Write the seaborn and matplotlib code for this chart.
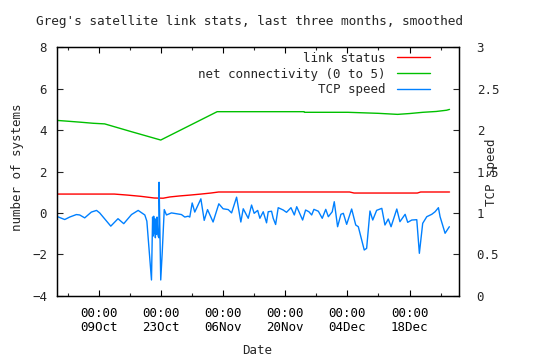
import matplotlib
matplotlib.use("Agg")
import matplotlib.pyplot as plt
import matplotlib.dates as mdates
import seaborn as sns
import pandas as pd

# 设置绘图风格
sns.set_theme(style="white")
plt.rcParams["font.family"] = ["DejaVu Sans Mono"]
plt.rcParams["font.size"] = 9

YEAR = "2007"

# link status (left axis)
link_time = ["09-29 12:00", "10-12 12:00", "10-15 12:00", "10-18 12:00", "10-21 12:00",
             "10-23 12:00", "10-25 00:00", "10-27 06:00", "10-29 12:00", "11-01 00:00",
             "11-03 06:00", "11-05 00:00", "12-04 12:00", "12-05 12:00", "12-19 18:00",
             "12-20 12:00", "12-27 00:00"]
link_status = [0.91, 0.91, 0.86, 0.80, 0.72,
               0.71, 0.77, 0.82, 0.86, 0.91,
               0.96, 1.01, 1.01, 0.96, 0.96,
               1.01, 1.01]

# net connectivity (left axis)
net_time = ["09-29 12:00", "10-02 00:00", "10-05 00:00", "10-07 18:00", "10-10 08:00",
            "10-16 06:00", "10-22 23:00", "11-04 16:00", "11-24 06:00", "11-24 08:00",
            "12-04 03:00", "12-11 00:00", "12-15 07:00", "12-18 00:00", "12-21 00:00",
            "12-24 00:00", "12-26 08:00", "12-27 00:00"]
net_conn = [4.47, 4.43, 4.38, 4.33, 4.30,
            3.93, 3.52, 4.89, 4.89, 4.86,
            4.86, 4.81, 4.76, 4.80, 4.86,
            4.90, 4.96, 5.00]

# TCP speed (right axis)
tcp_time = ["09-29 11:00", "10-01 08:00", "10-02 11:00", "10-03 23:00", "10-04 17:00",
            "10-05 20:00", "10-07 08:00", "10-08 12:00", "10-09 05:00", "10-11 17:00",
            "10-13 08:00", "10-14 15:00", "10-16 09:00", "10-17 21:00", "10-19 09:00",
            "10-19 20:00", "10-20 21:00", "10-21 03:00", "10-21 06:00", "10-21 09:00",
            "10-21 12:00", "10-21 15:00", "10-21 18:00", "10-21 21:00", "10-22 00:00",
            "10-22 03:00", "10-22 06:00", "10-22 09:00", "10-22 13:00", "10-22 14:00",
            "10-22 23:00", "10-23 07:00", "10-23 18:00", "10-24 06:00", "10-25 09:00",
            "10-26 12:00", "10-27 15:00", "10-28 09:00", "10-29 03:00", "10-29 12:00",
            "10-30 01:00", "10-30 15:00", "11-01 00:00", "11-01 18:00", "11-02 12:00",
            "11-03 18:00", "11-05 01:00", "11-06 00:00", "11-07 04:00", "11-07 22:00",
            "11-09 01:00", "11-10 00:00", "11-10 13:00", "11-11 16:00", "11-12 10:00",
            "11-13 00:00", "11-13 19:00", "11-14 07:00", "11-15 01:00", "11-15 19:00",
            "11-16 04:00", "11-16 22:00", "11-17 07:00", "11-17 20:00", "11-18 10:00",
            "11-19 13:00", "11-20 07:00", "11-21 07:00", "11-22 01:00", "11-22 14:00",
            "11-23 22:00", "11-24 14:00", "11-25 08:00", "11-25 23:00", "11-26 11:00",
            "11-27 11:00", "11-28 08:00", "11-29 03:00", "11-29 17:00", "11-30 14:00",
            "12-01 01:00", "12-01 19:00", "12-02 13:00", "12-03 02:00", "12-03 20:00",
            "12-04 23:00", "12-05 21:00", "12-06 11:00", "12-07 19:00", "12-08 08:00",
            "12-09 02:00", "12-09 17:00", "12-10 14:00", "12-11 18:00", "12-12 11:00",
            "12-13 05:00", "12-13 20:00", "12-15 03:00", "12-15 20:00", "12-17 00:00",
            "12-17 14:00", "12-18 12:00", "12-19 15:00", "12-20 05:00", "12-20 23:00",
            "12-21 21:00", "12-23 00:00", "12-23 18:00", "12-24 12:00", "12-24 21:00",
            "12-26 00:00", "12-26 23:00"]
tcp_speed = [0.96, 0.92, 0.95, 0.98, 0.975,
             0.94, 1.01, 1.03, 1.00, 0.84,
             0.93, 0.87, 0.98, 1.03, 0.975,
             0.90, 0.19, 0.95, 0.72, 0.96,
             0.75, 0.93, 0.70, 0.92, 0.74,
             0.95, 0.78, 0.72, 0.70, 1.37,
             0.19, 0.52, 1.04, 0.975, 1.00,
             0.99, 0.98, 0.95, 0.96, 0.95,
             1.12, 1.01, 1.17, 0.91, 1.04,
             0.89, 1.11, 1.05, 1.04, 1.00,
             1.19, 0.89, 1.05, 0.935, 1.095,
             0.995, 1.03, 0.935, 1.014, 0.88,
             1.014, 1.02, 0.935, 0.86, 1.063,
             1.035, 1.007, 1.063, 0.975, 1.075,
             0.914, 1.035, 1.014, 0.975, 1.043,
             1.02, 0.935, 1.043, 0.954, 1.014,
             1.135, 0.833, 0.983, 0.995, 0.862,
             1.047, 0.854, 0.833, 0.552, 0.572,
             1.023, 0.914, 1.031, 1.055, 0.854,
             0.926, 0.833, 1.047, 0.894, 0.983,
             0.886, 0.914, 0.918, 0.512, 0.874,
             0.954, 0.983, 1.014, 1.063, 0.954,
             0.754, 0.833]

tick_dates = ["10-09", "10-23", "11-06", "11-20", "12-04", "12-18"]
minor_dates = ["10-02", "10-16", "10-30", "11-13", "11-27", "12-11", "12-25"]


def to_dt(values):
    return pd.to_datetime([f"{YEAR}-{v}" for v in values])


link_df = pd.DataFrame({"Date": to_dt(link_time), "value": link_status})
net_df = pd.DataFrame({"Date": to_dt(net_time), "value": net_conn})
tcp_df = pd.DataFrame({"Date": to_dt(tcp_time), "value": tcp_speed})

fig = plt.figure(figsize=(5.4, 3.6), dpi=100)
ax = fig.add_axes([0.105, 0.1786, 0.7456, 0.69])
ax2 = ax.twinx()

sns.lineplot(data=link_df, x="Date", y="value", ax=ax, color="#ff0000",
             linewidth=1.0, label="link status", legend=False)
sns.lineplot(data=net_df, x="Date", y="value", ax=ax, color="#00c000",
             linewidth=1.0, label="net connectivity (0 to 5)", legend=False)
sns.lineplot(data=tcp_df, x="Date", y="value", ax=ax2, color="#0080ff",
             linewidth=1.0, label="TCP speed", legend=False, sort=False)

ax.set_xlim(pd.Timestamp(f"{YEAR}-09-29 12:40"), pd.Timestamp(f"{YEAR}-12-29 05:00"))
ax.set_ylim(-4, 8)
ax2.set_ylim(0, 3)
ax.set_yticks([-4, -2, 0, 2, 4, 6, 8])
ax2.set_yticks([0, 0.5, 1, 1.5, 2, 2.5, 3])
ax2.set_yticklabels(["0", "0.5", "1", "1.5", "2", "2.5", "3"])

ax.set_xticks(to_dt(tick_dates))
ax.set_xticks(to_dt(minor_dates), minor=True)
ax.xaxis.set_major_formatter(mdates.DateFormatter("%H:%M\n%d%b"))

ax.tick_params(axis="x", which="major", direction="in", length=4, width=0.8,
               top=True, bottom=True, pad=8, labelsize=9, colors="black")
ax.tick_params(axis="x", which="minor", direction="in", length=2, width=0.8,
               top=True, bottom=True)
ax.tick_params(axis="y", direction="in", length=4, width=0.8, left=True,
               right=False, pad=7, labelsize=9)
ax2.tick_params(axis="y", direction="in", length=4, width=0.8, right=True,
                left=False, pad=12.5, labelsize=9)
for lab in ax.get_xticklabels():
    lab.set_linespacing(1.15)

for a in (ax, ax2):
    for s in a.spines.values():
        s.set_color("black")
        s.set_linewidth(0.9)
    a.grid(False)
    a.set_xlabel("")
    a.set_ylabel("")

fig.text(249.5 / 540, 1 - 22 / 360, "Greg's satellite link stats, last three months, smoothed",
         ha="center", va="center", fontsize=9.2)
fig.text(18 / 540, 1 - 167.5 / 360, "number of systems", rotation=90,
         ha="center", va="center", fontsize=9)
fig.text(491.7 / 540, 1 - 172.3 / 360, "TCP speed", rotation=90,
         ha="center", va="center", fontsize=9)
fig.text(257.5 / 540, 1 - 350.5 / 360, "Date", ha="center", va="center", fontsize=9)

h1, l1 = ax.get_legend_handles_labels()
h2, l2 = ax2.get_legend_handles_labels()
ax2.legend(h1 + h2, l1 + l2, loc="upper right", bbox_to_anchor=(0.927, 0.982),
           frameon=False, markerfirst=False, borderpad=0, borderaxespad=0,
           handlelength=2.65, handletextpad=0.9, labelspacing=0.22, fontsize=9)

fig.savefig("out.png", dpi=100)
